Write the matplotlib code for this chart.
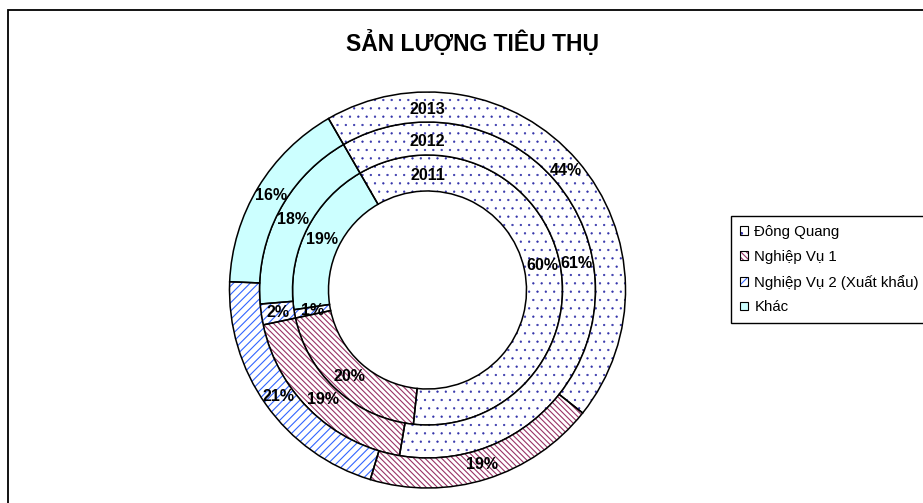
import matplotlib
matplotlib.use("Agg")
import matplotlib.pyplot as plt
from matplotlib.patches import Patch, Rectangle
from matplotlib.legend_handler import HandlerTuple
import numpy as np

plt.rcParams['font.family'] = ['Liberation Sans', 'DejaVu Sans']
plt.rcParams['hatch.linewidth'] = 0.8

# ---- data ----
title = "SẢN LƯỢNG TIÊU THỤ"
categories = ["Đông Quang", "Nghiệp Vụ 1", "Nghiệp Vụ 2 (Xuất khẩu)", "Khác"]
years = ["2011", "2012", "2013"]
values_2011 = [60, 20, 1, 19]
values_2012 = [61, 19, 2, 18]
values_2013 = [44, 19, 21, 16]
series = [values_2011, values_2012, values_2013]

# ---- styles ----
face_colors = ["white", "white", "white", "#CCFFFF"]
hatch_colors = ["#3333AA", "#993366", "#3366FF", "#CCFFFF"]
hatches = ["..", "\\\\\\\\\\\\", "////", None]
hatch_lws = [0.4, 0.8, 0.8, 0.8]
ring_outer = [135, 168, 198]   # pixel radii (inner to outer)
ring_width = [36, 33, 30]

W, H = 923, 503
fig = plt.figure(figsize=(W / 100, H / 100), dpi=100)

cx, cy, R = 427.5, 290, 200
ax = fig.add_axes([(cx - R) / W, (H - cy - R) / H, 2 * R / W, 2 * R / H])


def style_hatch(p, hc, h, hlw):
    p.set_edgecolor(hc)
    p.set_linewidth(0)
    if h:
        p.set_hatch(h)
        if hasattr(p, "set_hatch_linewidth"):
            p.set_hatch_linewidth(hlw)


for vals, ro, rw, yr in zip(series, ring_outer, ring_width, years):
    wedges, _ = ax.pie(vals, radius=ro, startangle=120, counterclock=False,
                       colors=face_colors,
                       wedgeprops=dict(width=rw, linewidth=0))
    for w, hc, h, hlw in zip(wedges, hatch_colors, hatches, hatch_lws):
        style_hatch(w, hc, h, hlw)
    outl, _ = ax.pie(vals, radius=ro, startangle=120, counterclock=False,
                     colors=["none"] * len(vals),
                     wedgeprops=dict(width=rw, linewidth=1.1, edgecolor="black"))
    for w, v in zip(outl, vals):
        ang = np.deg2rad((w.theta1 + w.theta2) / 2)
        rm = w.r - w.width / 2
        ax.text(rm * np.cos(ang), rm * np.sin(ang), f"{v}%", ha="center",
                va="center", fontsize=11.5, fontweight="bold", color="black")
    ax.text(0, ro - rw / 2 - 3, yr, ha="center", va="center", fontsize=11.5,
            fontweight="bold", color="black")

ax.set_xlim(-R, R)
ax.set_ylim(-R, R)
ax.set_aspect("equal")
ax.axis("off")

fig.text(472 / W, 1 - 43 / H, title, ha="center", va="center",
         fontsize=16.5, fontweight="bold")

# chart frame
fig.patches.append(Rectangle((8 / W, -0.1), 1.2, 1 - 10 / H + 0.1,
                             transform=fig.transFigure, fill=False,
                             edgecolor="black", linewidth=1.3))

# legend
handles = []
for fc, hc, h, hlw in zip(face_colors, hatch_colors, hatches, hatch_lws):
    p1 = Patch(facecolor=fc)
    style_hatch(p1, hc, h, hlw)
    p2 = Patch(facecolor="none", edgecolor="black", linewidth=0.8)
    handles.append((p1, p2))
leg = fig.legend(handles, categories, loc="upper left",
                 bbox_to_anchor=(731 / W, 1 - 216 / H),
                 handler_map={tuple: HandlerTuple(ndivide=1)},
                 fontsize=10.8, frameon=True, fancybox=False,
                 edgecolor="black", framealpha=1, borderpad=0.6,
                 labelspacing=0.72, handlelength=0.5, handleheight=0.5,
                 handletextpad=0.45, borderaxespad=0)
leg.get_frame().set_linewidth(1.0)

fig.savefig("out.png", dpi=100)
